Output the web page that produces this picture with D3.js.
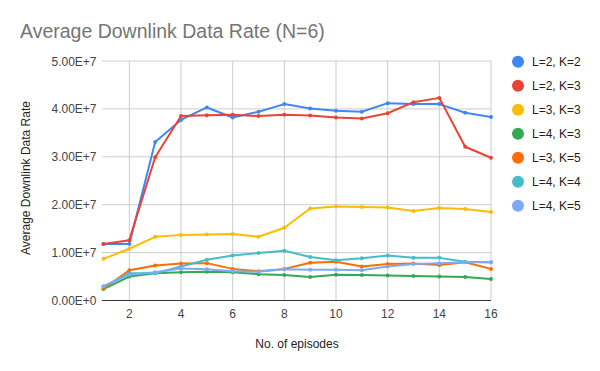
<!DOCTYPE html>
<html>
<head>
<meta charset="utf-8">
<script src="https://cdn.jsdelivr.net/npm/d3@7"></script>
<style>
  html, body { margin: 0; padding: 0; background: #fff; }
  svg text { font-family: Arial, "Liberation Sans", sans-serif; }
</style>
</head>
<body>
<svg id="chart" width="600" height="371"></svg>
<script>
const episodes = [1,2,3,4,5,6,7,8,9,10,11,12,13,14,15,16];
const seriesNames = ["L=2, K=2","L=2, K=3","L=3, K=3","L=4, K=3","L=3, K=5","L=4, K=4","L=4, K=5"];
const seriesColors = ["#4285f4","#ea4335","#fbbc04","#34a853","#ff6d01","#46bdc6","#7baaf7"];
const s_L2K2 = [1.18e7,1.18e7,3.31e7,3.77e7,4.03e7,3.82e7,3.94e7,4.10e7,4.01e7,3.96e7,3.94e7,4.12e7,4.10e7,4.10e7,3.92e7,3.83e7];
const s_L2K3 = [1.18e7,1.26e7,2.99e7,3.85e7,3.87e7,3.88e7,3.85e7,3.88e7,3.86e7,3.82e7,3.80e7,3.91e7,4.14e7,4.23e7,3.21e7,2.98e7];
const s_L3K3 = [0.87e7,1.08e7,1.33e7,1.37e7,1.38e7,1.39e7,1.33e7,1.52e7,1.92e7,1.96e7,1.95e7,1.94e7,1.87e7,1.93e7,1.91e7,1.85e7];
const s_L4K3 = [0.24e7,0.50e7,0.57e7,0.59e7,0.60e7,0.59e7,0.55e7,0.53e7,0.49e7,0.54e7,0.53e7,0.52e7,0.51e7,0.50e7,0.49e7,0.45e7];
const s_L3K5 = [0.25e7,0.63e7,0.73e7,0.77e7,0.78e7,0.66e7,0.61e7,0.66e7,0.79e7,0.81e7,0.71e7,0.76e7,0.77e7,0.74e7,0.80e7,0.66e7];
const s_L4K4 = [0.29e7,0.57e7,0.57e7,0.71e7,0.85e7,0.94e7,0.99e7,1.04e7,0.91e7,0.84e7,0.88e7,0.94e7,0.89e7,0.89e7,0.81e7,0.80e7];
const s_L4K5 = [0.30e7,0.54e7,0.59e7,0.67e7,0.65e7,0.61e7,0.60e7,0.65e7,0.64e7,0.64e7,0.63e7,0.71e7,0.76e7,0.78e7,0.80e7,0.80e7];
const yTicks = [0,1e7,2e7,3e7,4e7,5e7];
const yTickLabels = ["0.00E+0","1.00E+7","2.00E+7","3.00E+7","4.00E+7","5.00E+7"];
const xTicks = [2,4,6,8,10,12,14,16];

const allSeries = [s_L2K2,s_L2K3,s_L3K3,s_L4K3,s_L3K5,s_L4K4,s_L4K5];
const svg = d3.select("#chart");

const x = d3.scaleLinear().domain([1,16]).range([103.5,491]);
const y = d3.scaleLinear().domain([0,5e7]).range([300.5,61]);

// gridlines
const grid = svg.append("g");
grid.selectAll("line.h").data(yTicks.slice(1)).enter().append("line")
  .attr("x1",102).attr("x2",491)
  .attr("y1",d=>y(d)).attr("y2",d=>y(d))
  .attr("stroke","#cccccc").attr("stroke-width",1);
grid.selectAll("line.v").data(xTicks).enter().append("line")
  .attr("x1",d=>x(d)).attr("x2",d=>x(d))
  .attr("y1",61).attr("y2",300.5)
  .attr("stroke","#cccccc").attr("stroke-width",1);

// y labels
svg.append("g").selectAll("text").data(yTicks).enter().append("text")
  .attr("x",96.5).attr("y",d=>y(d)+4.5)
  .attr("text-anchor","end").attr("font-size",12).attr("fill","#444444")
  .text((d,i)=>yTickLabels[i]);

// x labels
svg.append("g").selectAll("text").data(xTicks).enter().append("text")
  .attr("x",d=>x(d)).attr("y",318)
  .attr("text-anchor","middle").attr("font-size",12).attr("fill","#444444")
  .text(d=>d);

// lines
const line = d3.line().x((d,i)=>x(episodes[i])).y(d=>y(d));
allSeries.forEach((s,k)=>{
  const g = svg.append("g");
  g.append("path").datum(s).attr("d",line)
    .attr("fill","none").attr("stroke",seriesColors[k]).attr("stroke-width",2)
    .attr("stroke-linejoin","round");
  g.selectAll("circle").data(s).enter().append("circle")
    .attr("cx",(d,i)=>x(episodes[i])).attr("cy",d=>y(d)).attr("r",2)
    .attr("fill",seriesColors[k]);
});

// baseline axis
svg.append("line").attr("x1",102).attr("x2",491).attr("y1",y(0)).attr("y2",y(0))
  .attr("stroke","#333333").attr("stroke-width",1);

// title
svg.append("text").attr("x",20).attr("y",37.5).attr("font-size",19.5).attr("fill","#757575")
  .text("Average Downlink Data Rate (N=6)");

// axis titles
svg.append("text").attr("x",297).attr("y",348).attr("text-anchor","middle")
  .attr("font-size",12).attr("fill","#222222").text("No. of episodes");
svg.append("text").attr("transform","translate(30,178) rotate(-90)").attr("text-anchor","middle")
  .attr("font-size",12).attr("fill","#222222").text("Average Downlink Data Rate");

// legend
const leg = svg.append("g").selectAll("g").data(seriesNames).enter().append("g")
  .attr("transform",(d,i)=>`translate(518,${61.7+i*24})`);
leg.append("circle").attr("r",6).attr("fill",(d,i)=>seriesColors[i]);
leg.append("text").attr("x",14).attr("y",4.5).attr("font-size",12).attr("fill","#222222").text(d=>d);
</script>
</body>
</html>
